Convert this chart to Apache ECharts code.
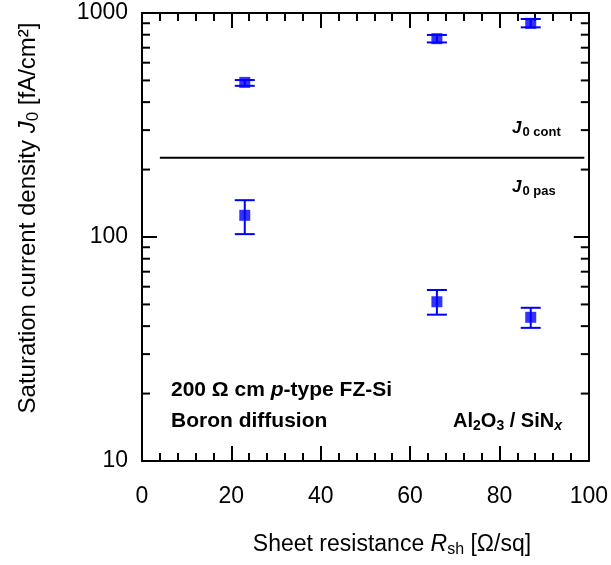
<!DOCTYPE html>
<html>
<head>
<meta charset="utf-8">
<script src="https://cdn.jsdelivr.net/npm/echarts@6/dist/echarts.min.js"></script>
<style>html,body{margin:0;padding:0;background:#fff}#c{width:611px;height:565px}</style>
</head>
<body>
<div id="c"></div>
<script>
// ---- data ----
const sheetResistance = [23, 66, 87];
const j0Cont = [490, 768, 899];
const j0ContLow = [473, 739, 863];
const j0ContHigh = [502, 798, 940];
const j0Pas = [125, 51.4, 43.8];
const j0PasLow = [103, 45.0, 39.3];
const j0PasHigh = [146, 58, 48.3];
const separatorX = [4, 99];
const separatorY = 226;
const xTicks = [0, 20, 40, 60, 80, 100];
const yTicks = [10, 100, 1000];
const yMinorTicks = [20, 30, 40, 50, 60, 70, 80, 90, 200, 300, 400, 500, 600, 700, 800, 900];

const FONT = 'Arial, "Liberation Sans", sans-serif';
const BLUE = '#0000ff';

const chart = echarts.init(document.getElementById('c'), null, {renderer: 'canvas'});

function errData(xs, lo, hi) { return xs.map((x, i) => [x, lo[i], hi[i]]); }
function errRender(params, api) {
  const x = api.value(0);
  const top = api.coord([x, api.value(2)]);
  const bot = api.coord([x, api.value(1)]);
  const hw = 10;
  const st = {stroke: BLUE, lineWidth: 2};
  return {type: 'group', children: [
    {type: 'line', shape: {x1: top[0], y1: top[1], x2: bot[0], y2: bot[1]}, style: st},
    {type: 'line', shape: {x1: top[0] - hw, y1: top[1], x2: top[0] + hw, y2: top[1]}, style: st},
    {type: 'line', shape: {x1: bot[0] - hw, y1: bot[1], x2: bot[0] + hw, y2: bot[1]}, style: st}
  ]};
}
function minorTickRender(params, api) {
  const v = api.value(0);
  const l = api.coord([0, v]);
  const r = api.coord([100, v]);
  const len = 8;
  const st = {stroke: '#000', lineWidth: 2};
  return {type: 'group', children: [
    {type: 'line', shape: {x1: l[0], y1: l[1], x2: l[0] + len, y2: l[1]}, style: st},
    {type: 'line', shape: {x1: r[0] - len, y1: r[1], x2: r[0], y2: r[1]}, style: st}
  ]};
}

const axisCommonX = {
  type: 'value', min: xTicks[0], max: xTicks[xTicks.length - 1], interval: 20,
  axisLine: {show: true, onZero: false, lineStyle: {color: '#000', width: 2}},
  axisTick: {show: true, inside: true, length: 15, lineStyle: {color: '#000', width: 2}},
  minorTick: {show: true, splitNumber: 5, length: 8, lineStyle: {color: '#000', width: 2}},
  splitLine: {show: false}, minorSplitLine: {show: false}
};
const axisCommonY = {
  type: 'log', logBase: 10, min: yTicks[0], max: yTicks[yTicks.length - 1],
  axisLine: {show: true, onZero: false, lineStyle: {color: '#000', width: 2}},
  axisTick: {show: true, inside: true, length: 15, lineStyle: {color: '#000', width: 2}},
  minorTick: {show: false},
  splitLine: {show: false}
};

chart.setOption({
  animation: false,
  backgroundColor: '#fff',
  grid: {left: 142, right: 19, top: 13, bottom: 104},
  xAxis: [
    Object.assign({}, axisCommonX, {position: 'bottom',
      axisLabel: {show: true, margin: 24, color: '#000', fontSize: 23, fontFamily: FONT}}),
    Object.assign({}, axisCommonX, {position: 'top', axisLabel: {show: false}})
  ],
  yAxis: [
    Object.assign({}, axisCommonY, {position: 'left',
      axisLabel: {show: true, margin: 14, color: '#000', fontSize: 23, fontFamily: FONT,
        formatter: v => String(Math.round(v))}}),
    Object.assign({}, axisCommonY, {position: 'right', axisLabel: {show: false}})
  ],
  series: [
    {type: 'custom', renderItem: minorTickRender, data: yMinorTicks.map(v => [v]),
      encode: {y: 0}, clip: false, silent: true, z: 5, xAxisIndex: 0, yAxisIndex: 0},
    {type: 'line', data: separatorX.map(x => [x, separatorY]), symbol: 'none',
      lineStyle: {color: '#000', width: 2}, silent: true},
    {type: 'custom', renderItem: errRender, data: errData(sheetResistance, j0ContLow, j0ContHigh),
      encode: {x: 0, y: [1, 2]}, z: 3},
    {type: 'custom', renderItem: errRender, data: errData(sheetResistance, j0PasLow, j0PasHigh),
      encode: {x: 0, y: [1, 2]}, z: 3},
    {type: 'scatter', data: sheetResistance.map((x, i) => [x, j0Cont[i]]), symbol: 'rect',
      symbolSize: 11, itemStyle: {color: BLUE}, z: 4},
    {type: 'scatter', data: sheetResistance.map((x, i) => [x, j0Pas[i]]), symbol: 'rect',
      symbolSize: 11, itemStyle: {color: BLUE}, z: 4}
  ],
  graphic: [
    {type: 'text', x: 28, y: 218, rotation: Math.PI / 2,
      style: {
        text: 'Saturation current density {i|J}{s|0} [fA/cm²]',
        font: '24px ' + FONT, fill: '#000', align: 'center', verticalAlign: 'middle',
        rich: {i: {fontSize: 24, fontStyle: 'italic', fontFamily: FONT},
               s: {fontSize: 17, fontFamily: FONT, padding: [10, 0, 0, 0]}}
      }},
    {type: 'text', x: 392, y: 545,
      style: {
        text: 'Sheet resistance {i|R}{s|sh} [Ω/sq]',
        font: '23px ' + FONT, fill: '#000', align: 'center', verticalAlign: 'middle',
        rich: {i: {fontSize: 23, fontStyle: 'italic', fontFamily: FONT},
               s: {fontSize: 16, fontFamily: FONT, padding: [10, 0, 0, 0]}}
      }},
    {type: 'text', x: 512, y: 128,
      style: {
        text: '{i|J}{s|0 cont}', fill: '#000', verticalAlign: 'middle',
        rich: {i: {fontSize: 17, fontStyle: 'italic', fontWeight: 'bold', fontFamily: FONT},
               s: {fontSize: 13, fontWeight: 'bold', fontFamily: FONT, padding: [9, 0, 0, 1]}}
      }},
    {type: 'text', x: 512, y: 187,
      style: {
        text: '{i|J}{s|0 pas}', fill: '#000', verticalAlign: 'middle',
        rich: {i: {fontSize: 17, fontStyle: 'italic', fontWeight: 'bold', fontFamily: FONT},
               s: {fontSize: 13, fontWeight: 'bold', fontFamily: FONT, padding: [9, 0, 0, 1]}}
      }},
    {type: 'text', x: 171, y: 390,
      style: {
        text: '{b|200 Ω cm }{bi|p}{b|-type FZ-Si}', fill: '#000', verticalAlign: 'middle',
        rich: {b: {fontSize: 21, fontWeight: 'bold', fontFamily: FONT},
               bi: {fontSize: 21, fontWeight: 'bold', fontStyle: 'italic', fontFamily: FONT}}
      }},
    {type: 'text', x: 171, y: 421,
      style: {
        text: 'Boron diffusion', fill: '#000', verticalAlign: 'middle',
        font: 'bold 21px ' + FONT
      }},
    {type: 'text', x: 562, y: 421,
      style: {
        text: '{b|Al}{s|2}{b|O}{s|3}{b| / SiN}{si|x}', fill: '#000', verticalAlign: 'middle', align: 'right',
        rich: {b: {fontSize: 20, fontWeight: 'bold', fontFamily: FONT},
               s: {fontSize: 14, fontWeight: 'bold', fontFamily: FONT, padding: [10, 0, 0, 0]},
               si: {fontSize: 14, fontWeight: 'bold', fontStyle: 'italic', fontFamily: FONT, padding: [10, 0, 0, 0]}}
      }}
  ]
});
</script>
</body>
</html>
